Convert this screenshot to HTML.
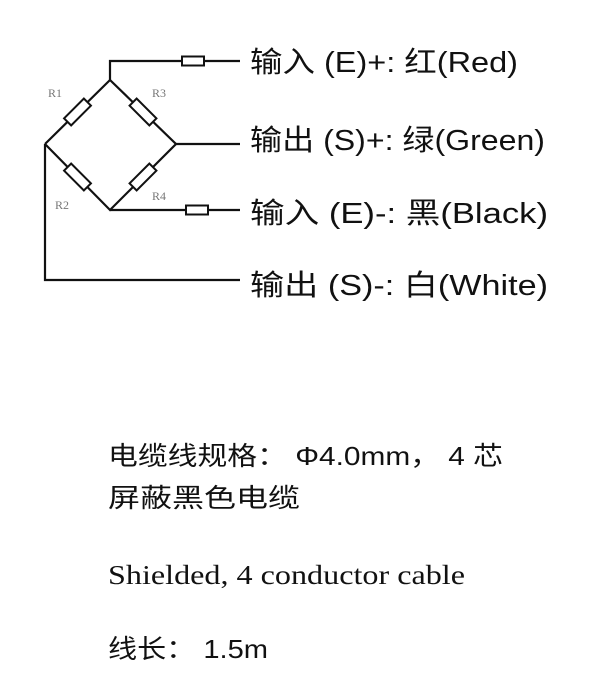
<!DOCTYPE html>
<html><head><meta charset="utf-8"><style>
html,body{margin:0;padding:0;background:#fff;}
svg{display:block;}
.c{font-family:"Liberation Sans","Noto Sans CJK SC",sans-serif;fill:#111;}
</style></head><body>
<svg width="600" height="686" viewBox="0 0 600 686" xmlns="http://www.w3.org/2000/svg">
<g stroke="#111" stroke-width="2.2" fill="none">
<polyline points="110,80 110,61 240,61"/>
<polyline points="45,144 110,80 176,144 110,210 45,144"/>
<line x1="176" y1="144" x2="240" y2="144"/>
<line x1="110" y1="210" x2="240" y2="210"/>
<polyline points="45,144 45,280 240,280"/>
</g>
<g stroke="#111" stroke-width="2" fill="#fff">
<rect x="182" y="56.5" width="22" height="9"/>
<rect x="186" y="205.5" width="22" height="9"/>
<rect x="-14" y="-5" width="28" height="10" transform="translate(77.5,112) rotate(-45)"/>
<rect x="-14" y="-5" width="28" height="10" transform="translate(143,112) rotate(45)"/>
<rect x="-14" y="-5" width="28" height="10" transform="translate(77.5,177) rotate(45)"/>
<rect x="-14" y="-5" width="28" height="10" transform="translate(143,177) rotate(-45)"/>
</g>
<g font-family="Liberation Serif,serif" font-size="12" fill="#777">
<text x="48" y="97">R1</text>
<text x="152" y="97">R3</text>
<text x="55" y="209">R2</text>
<text x="152" y="200">R4</text>
</g>
<g class="c" font-size="29">
<text x="250" y="72" textLength="268" lengthAdjust="spacingAndGlyphs">输入 (E)+: 红(Red)</text>
<text x="250" y="150" textLength="295" lengthAdjust="spacingAndGlyphs">输出 (S)+: 绿(Green)</text>
<text x="250" y="223" textLength="298" lengthAdjust="spacingAndGlyphs">输入 (E)-: 黑(Black)</text>
<text x="250" y="295" textLength="298" lengthAdjust="spacingAndGlyphs">输出 (S)-: 白(White)</text>
</g>
<g class="c" font-size="26">
<text x="108" y="465" textLength="395" lengthAdjust="spacingAndGlyphs">电缆线规格： Φ4.0mm， 4 芯</text>
<text x="108" y="507" textLength="192" lengthAdjust="spacingAndGlyphs">屏蔽黑色电缆</text>
<text x="108" y="584" font-family="Liberation Serif,serif" font-size="27" textLength="357" lengthAdjust="spacingAndGlyphs">Shielded, 4 conductor cable</text>
<text x="108" y="658" textLength="160" lengthAdjust="spacingAndGlyphs">线长： 1.5m</text>
</g>
</svg>
</body></html>
